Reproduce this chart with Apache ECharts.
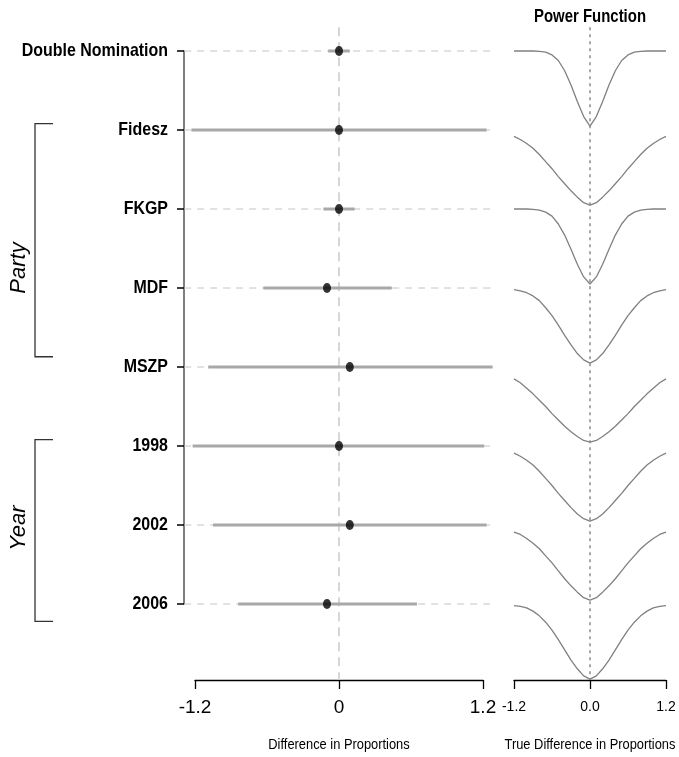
<!DOCTYPE html>
<html>
<head>
<meta charset="utf-8">
<style>html,body{margin:0;padding:0;background:#fff}#main{width:679px;height:757px}</style>
<script src="https://cdn.jsdelivr.net/npm/echarts@6/dist/echarts.min.js"></script>
</head>
<body>
<div id="main"></div>
<script>
var rowNames = ['Double Nomination', 'Fidesz', 'FKGP', 'MDF', 'MSZP', '1998', '2002', '2006'];
var estimates = [0, 0, 0, -0.1, 0.09, 0, 0.09, -0.1];
var lower = [-0.09, -1.23, -0.13, -0.63, -1.09, -1.22, -1.05, -0.84];
var upper = [0.09, 1.23, 0.13, 0.44, 1.28, 1.21, 1.23, 0.65];

// true difference grid for the power curves
var trueDiff = [-1.2, -1.1, -1.0, -0.9, -0.8, -0.7, -0.6, -0.5, -0.4, -0.3, -0.2, -0.1, 0,
    0.1, 0.2, 0.3, 0.4, 0.5, 0.6, 0.7, 0.8, 0.9, 1.0, 1.1, 1.2];
var powerDN     = [1, 1, 1, 1, 0.995, 0.985, 0.95, 0.88, 0.75, 0.57, 0.36, 0.17, 0.05, 0.17, 0.36, 0.57, 0.75, 0.88, 0.95, 0.985, 0.995, 1, 1, 1, 1];
var powerFidesz = [0.92, 0.88, 0.83, 0.77, 0.69, 0.60, 0.51, 0.41, 0.32, 0.23, 0.15, 0.08, 0.05, 0.08, 0.15, 0.23, 0.32, 0.41, 0.51, 0.60, 0.69, 0.77, 0.83, 0.88, 0.92];
var powerFKGP   = [1, 1, 1, 0.995, 0.985, 0.96, 0.91, 0.81, 0.67, 0.49, 0.30, 0.14, 0.05, 0.14, 0.30, 0.49, 0.67, 0.81, 0.91, 0.96, 0.985, 0.995, 1, 1, 1];
var powerMDF    = [0.98, 0.965, 0.94, 0.90, 0.84, 0.75, 0.65, 0.53, 0.40, 0.28, 0.17, 0.09, 0.05, 0.09, 0.17, 0.28, 0.40, 0.53, 0.65, 0.75, 0.84, 0.90, 0.94, 0.965, 0.98];
var powerMSZP   = [0.85, 0.80, 0.73, 0.66, 0.58, 0.50, 0.41, 0.33, 0.25, 0.18, 0.12, 0.07, 0.05, 0.07, 0.12, 0.18, 0.25, 0.33, 0.41, 0.50, 0.58, 0.66, 0.73, 0.80, 0.85];
var power1998   = [0.91, 0.87, 0.82, 0.76, 0.68, 0.59, 0.50, 0.40, 0.31, 0.22, 0.14, 0.08, 0.05, 0.08, 0.14, 0.22, 0.31, 0.40, 0.50, 0.59, 0.68, 0.76, 0.82, 0.87, 0.91];
var power2002   = [0.91, 0.88, 0.83, 0.77, 0.70, 0.61, 0.52, 0.42, 0.32, 0.23, 0.15, 0.08, 0.05, 0.08, 0.15, 0.23, 0.32, 0.42, 0.52, 0.61, 0.70, 0.77, 0.83, 0.88, 0.91];
var power2006   = [0.98, 0.97, 0.95, 0.91, 0.85, 0.77, 0.67, 0.55, 0.42, 0.29, 0.18, 0.09, 0.05, 0.09, 0.18, 0.29, 0.42, 0.55, 0.67, 0.77, 0.85, 0.91, 0.95, 0.97, 0.98];
var powers = [powerDN, powerFidesz, powerFKGP, powerMDF, powerMSZP, power1998, power2002, power2006];

var groups = [
    {name: 'Party', top: 0.92, bottom: 3.87},
    {name: 'Year', top: 4.92, bottom: 7.22}
];

var font = "'Liberation Sans', Arial, sans-serif";

function segment(color, width, dash) {
    return function (params, api) {
        var a = api.coord([api.value(0), api.value(2)]);
        var b = api.coord([api.value(1), api.value(2)]);
        return {
            type: 'line',
            shape: {x1: a[0], y1: a[1], x2: b[0], y2: b[1]},
            style: {stroke: color, lineWidth: width, lineDash: dash || null}
        };
    };
}

var series = [];

// dashed guide lines for each row
series.push({
    type: 'custom', xAxisIndex: 0, yAxisIndex: 0, silent: true, z: 1,
    renderItem: segment('#c4c4c4', 1, [7, 6]),
    data: rowNames.map(function (n, i) { return [-1.29, 1.275, i]; })
});

// vertical reference line at zero
series.push({
    type: 'custom', xAxisIndex: 0, yAxisIndex: 0, silent: true, z: 2,
    renderItem: function (params, api) {
        var a = api.coord([0, -0.3]);
        var b = api.coord([0, 7.96]);
        return {type: 'line', shape: {x1: a[0], y1: a[1], x2: b[0], y2: b[1]},
            style: {stroke: '#d6d6d6', lineWidth: 2, lineDash: [9, 6]}};
    },
    data: [[0, 0]]
});

// confidence intervals
series.push({
    type: 'custom', xAxisIndex: 0, yAxisIndex: 0, silent: true, z: 3,
    renderItem: segment('#a8a8a8', 3),
    data: rowNames.map(function (n, i) { return [lower[i], upper[i], i]; })
});

// point estimates
series.push({
    type: 'scatter', xAxisIndex: 0, yAxisIndex: 0, clip: false, z: 4,
    symbol: 'circle', symbolSize: [8, 10],
    itemStyle: {color: '#000'},
    data: estimates.map(function (v, i) { return [v, i]; })
});

// row labels, set in a condensed bold face
series.push({
    type: 'custom', xAxisIndex: 0, yAxisIndex: 0, silent: true, z: 5,
    renderItem: function (params, api) {
        var p = api.coord([-1.2, api.value(1)]);
        return {
            type: 'text', x: p[0] - 27, y: p[1], scaleX: 0.84,
            style: {text: rowNames[params.dataIndex], font: 'bold 19px ' + font,
                fill: '#000', align: 'right', verticalAlign: 'middle'}
        };
    },
    data: rowNames.map(function (n, i) { return [0, i]; })
});

// brackets for the groups
series.push({
    type: 'custom', xAxisIndex: 0, yAxisIndex: 0, silent: true, z: 5,
    renderItem: function (params, api) {
        var t = api.coord([-1.2, api.value(0)]);
        var b = api.coord([-1.2, api.value(1)]);
        var x0 = t[0] - 160, x1 = t[0] - 142;
        return {
            type: 'polyline',
            shape: {points: [[x1, t[1]], [x0, t[1]], [x0, b[1]], [x1, b[1]]]},
            style: {stroke: '#333', lineWidth: 1.3, fill: null}
        };
    },
    data: groups.map(function (g) { return [g.top, g.bottom]; })
});

// power function panel
series.push({
    type: 'line', xAxisIndex: 1, yAxisIndex: 1, clip: false, silent: true,
    symbol: 'none',
    lineStyle: {color: '#7a7a7a', width: 1.3, type: [3, 4]},
    data: [[0, -0.3], [0, 7.96]]
});
powers.forEach(function (p, i) {
    series.push({
        type: 'line', xAxisIndex: 1, yAxisIndex: 1, clip: false, silent: true,
        symbol: 'none',
        lineStyle: {color: '#808080', width: 1.3},
        data: trueDiff.map(function (d, k) { return [d, i + 1 - p[k]]; })
    });
});

var chart = echarts.init(document.getElementById('main'));
chart.setOption({
    animation: false,
    backgroundColor: '#fff',
    graphic: [
        {type: 'text', x: 590, y: 17, scaleX: 0.83,
            style: {text: 'Power Function', font: 'bold 18px ' + font, fill: '#000',
                align: 'center', verticalAlign: 'middle'}},
        {type: 'text', x: 339, y: 745, scaleX: 0.83,
            style: {text: 'Difference in Proportions', font: '15.5px ' + font, fill: '#000',
                align: 'center', verticalAlign: 'middle'}},
        {type: 'text', x: 590, y: 745, scaleX: 0.83,
            style: {text: 'True Difference in Proportions', font: '15.5px ' + font, fill: '#000',
                align: 'center', verticalAlign: 'middle'}},
        {type: 'text', x: 19, y: 268, rotation: Math.PI / 2,
            style: {text: 'Party', font: 'italic 22px ' + font, fill: '#000',
                align: 'center', verticalAlign: 'middle'}},
        {type: 'text', x: 19, y: 528, rotation: Math.PI / 2,
            style: {text: 'Year', font: 'italic 22px ' + font, fill: '#000',
                align: 'center', verticalAlign: 'middle'}}
    ],
    grid: [
        {left: 195, width: 288, top: 51, height: 553, outerBoundsMode: 'none'},
        {left: 514, width: 152, top: 51, height: 553, outerBoundsMode: 'none'}
    ],
    xAxis: [
        {
            gridIndex: 0, type: 'value', min: -1.2, max: 1.2, interval: 1.2,
            position: 'bottom', offset: 76,
            axisLine: {show: true, onZero: false, lineStyle: {color: '#000', width: 1.3}},
            axisTick: {show: true, length: 9, lineStyle: {color: '#000', width: 1.3}},
            axisLabel: {margin: 18, fontFamily: font, fontSize: 19, color: '#000'},
            splitLine: {show: false}
        },
        {
            gridIndex: 1, type: 'value', min: -1.2, max: 1.2, interval: 1.2,
            position: 'bottom', offset: 76,
            axisLine: {show: true, onZero: false, lineStyle: {color: '#000', width: 1.3}},
            axisTick: {show: true, length: 9, lineStyle: {color: '#000', width: 1.3}},
            axisLabel: {margin: 20, fontFamily: font, fontSize: 14, color: '#000',
                formatter: function (v) { return v.toFixed(1); }},
            splitLine: {show: false}
        }
    ],
    yAxis: [
        {
            gridIndex: 0, type: 'value', min: 0, max: 7, interval: 1, inverse: true,
            position: 'left', offset: 11,
            axisLine: {show: true, onZero: false, lineStyle: {color: '#555', width: 1.5}},
            axisTick: {show: true, length: 7, lineStyle: {color: '#000', width: 1.5}},
            axisLabel: {show: false},
            splitLine: {show: false}
        },
        {
            gridIndex: 1, type: 'value', min: 0, max: 7, inverse: true, show: false
        }
    ],
    series: series
});
window.addEventListener('resize', function () {
    chart.resize();
});
</script>
</body>
</html>
